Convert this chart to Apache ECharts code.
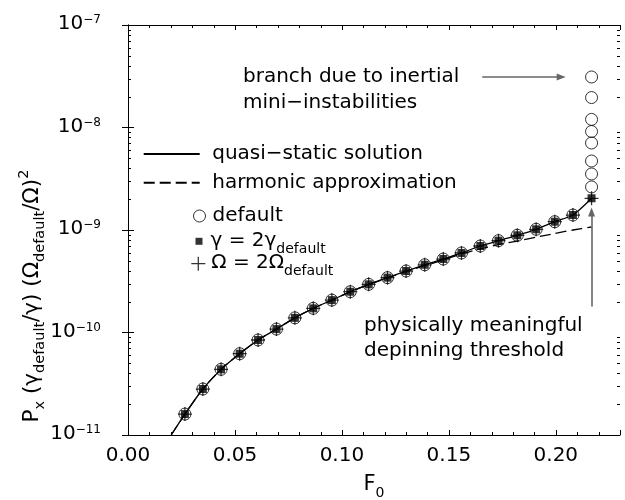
<!DOCTYPE html>
<html>
<head>
<meta charset="utf-8">
<script src="https://cdn.jsdelivr.net/npm/echarts@6/dist/echarts.min.js"></script>
<style>
    html, body { margin: 0; padding: 0; background: #fff; }
    #chart { width: 625px; height: 500px; }
</style>
</head>
<body>
<div id="chart"></div>
<script>
    const FONT = 'DejaVu Sans'

    // computed points along the curve (F0, scaled Px)
    const fValues = [0.0266, 0.0350, 0.0435, 0.0522, 0.0608, 0.0694, 0.0780, 0.0866, 0.0953, 0.1039, 0.1125, 0.1213,
        0.1300, 0.1387, 0.1474, 0.1559, 0.1647, 0.1732, 0.1820, 0.1908, 0.1995, 0.2080, 0.2167]
    const pValues = [1.60e-11, 2.81e-11, 4.37e-11, 6.21e-11, 8.45e-11, 1.08e-10, 1.39e-10, 1.72e-10, 2.07e-10, 2.50e-10, 2.95e-10, 3.43e-10,
        3.98e-10, 4.58e-10, 5.21e-10, 5.97e-10, 6.98e-10, 7.87e-10, 8.88e-10, 1.016e-9, 1.205e-9, 1.40e-9, 2.04e-9]

    // branch of the default run at the threshold
    const branchF = 0.2167
    const branchP = [2.63e-9, 3.52e-9, 4.71e-9, 7.06e-9, 9.14e-9, 1.20e-8, 1.96e-8, 3.11e-8]

    // quasi-static curve starts where it leaves the bottom of the plot
    const quasiStartF = 0.0202
    const quasiStartP = 1e-11

    // harmonic approximation
    const harmF = [0.0202, 0.0266, 0.0350, 0.0435, 0.0522, 0.0608, 0.0694, 0.0780, 0.0866, 0.0953, 0.1039, 0.1125,
        0.1213, 0.1300, 0.1387, 0.1474, 0.1559, 0.1647, 0.1732, 0.1820, 0.1908, 0.1995, 0.2080, 0.2167]
    const harmP = [1e-11, 1.60e-11, 2.81e-11, 4.37e-11, 6.21e-11, 8.45e-11, 1.08e-10, 1.39e-10, 1.72e-10, 2.07e-10, 2.49e-10, 2.93e-10,
        3.40e-10, 3.93e-10, 4.50e-10, 5.10e-10, 5.85e-10, 6.55e-10, 7.20e-10, 7.80e-10, 8.50e-10, 9.25e-10, 1.00e-9, 1.07e-9]

    // minor ticks
    const xMinorTicks = [0.01, 0.02, 0.03, 0.04, 0.06, 0.07, 0.08, 0.09, 0.11, 0.12, 0.13, 0.14, 0.16, 0.17, 0.18, 0.19, 0.21, 0.22]
    const yMinorTicks = [2e-11, 3e-11, 4e-11, 5e-11, 6e-11, 7e-11, 8e-11, 9e-11,
        2e-10, 3e-10, 4e-10, 5e-10, 6e-10, 7e-10, 8e-10, 9e-10,
        2e-9, 3e-9, 4e-9, 5e-9, 6e-9, 7e-9, 8e-9, 9e-9,
        2e-8, 3e-8, 4e-8, 5e-8, 6e-8, 7e-8, 8e-8, 9e-8]

    const quasiData = [[quasiStartF, quasiStartP]].concat(fValues.map((f, i) => [f, pValues[i]]))
    const harmData = harmF.map((f, i) => [f, harmP[i]])
    const defaultData = fValues.slice(0, 22).map((f, i) => [f, pValues[i]])
        .concat(branchP.map(p => [branchF, p]))
    const curveData = fValues.map((f, i) => [f, pValues[i]])
    const tickData = yMinorTicks.map(v => [0.1, v, 0]).concat(xMinorTicks.map(v => [v, 1e-9, 1]))

    const PLUS = 'path://M4.55,0H5.45V4.55H10V5.45H5.45V10H4.55V5.45H0V4.55H4.55Z'

    const subRich = {
        b: { fontFamily: FONT, fontSize: 20, lineHeight: 22, verticalAlign: 'top', color: '#000' },
        s: { fontFamily: FONT, fontSize: 14, lineHeight: 14, padding: [12, 0, 0, 0], verticalAlign: 'top', color: '#000' }
    }
    const legendFmt = name => {
        if (name.indexOf('_default') > 0) return '{b|' + name.replace('_default', '') + '}{s|default}'
        return name
    }
    const makeLegend = (name, left, top, w, h, pad, extra) => Object.assign({
        data: [name],
        left: left, top: top, padding: 0,
        itemWidth: w, itemHeight: h,
        selectedMode: false,
        formatter: legendFmt,
        textStyle: { fontFamily: FONT, fontSize: 20, lineHeight: 20, color: '#000', padding: [0, 0, 0, pad], rich: subRich }
    }, extra || {})

    const frameLine = { show: true, lineStyle: { color: '#000', width: 1 } }
    const majorTick = len => ({ show: true, inside: true, length: len, lineStyle: { color: '#000', width: 1 } })

    const chart = echarts.init(document.getElementById('chart'))

    const option = {
        animation: false,
        textStyle: { fontFamily: FONT, color: '#000' },
        grid: { left: 128, right: 5, top: 25, bottom: 65, outerBoundsMode: 'none' },
        xAxis: [
            {
                type: 'value', min: 0, max: 0.23, interval: 0.05, position: 'bottom',
                axisLine: frameLine, axisTick: majorTick(5), splitLine: { show: false },
                axisLabel: {
                    fontFamily: FONT, fontSize: 20, color: '#000', margin: 11,
                    formatter: v => Math.abs(v / 0.05 - Math.round(v / 0.05)) < 1e-6 ? v.toFixed(2) : ''
                },
                name: '{b|F}{s|0}', nameLocation: 'middle', nameGap: 39,
                nameTextStyle: { rich: {
                    b: { fontFamily: FONT, fontSize: 21, lineHeight: 22, verticalAlign: 'top', color: '#000' },
                    s: { fontFamily: FONT, fontSize: 14, lineHeight: 14, padding: [12, 0, 0, 0], verticalAlign: 'top', color: '#000' }
                } }
            },
            {
                type: 'value', min: 0, max: 0.23, interval: 0.05, position: 'top',
                axisLine: frameLine, axisTick: majorTick(5), splitLine: { show: false },
                axisLabel: { show: false }
            }
        ],
        yAxis: [
            {
                type: 'log', logBase: 10, min: 1e-11, max: 1e-7,
                axisLine: frameLine, axisTick: majorTick(6), splitLine: { show: false },
                axisLabel: {
                    margin: 27,
                    formatter: v => '{b|10}{e|\u2212' + Math.round(-Math.log10(v)) + '}',
                    rich: {
                        b: { fontFamily: FONT, fontSize: 20, lineHeight: 22, verticalAlign: 'top', color: '#000' },
                        e: { fontFamily: FONT, fontSize: 12, lineHeight: 13, verticalAlign: 'top', color: '#000' }
                    }
                }
            },
            {
                type: 'log', logBase: 10, min: 1e-11, max: 1e-7, position: 'right',
                axisLine: frameLine, axisTick: majorTick(6), splitLine: { show: false },
                axisLabel: { show: false }
            }
        ],
        legend: [
            makeLegend('quasi\u2212static solution', 142.7, 144, 56, 20, 7.5, { itemStyle: { opacity: 0 } }),
            makeLegend('harmonic approximation', 142.7, 172.7, 56, 20, 7.5, { itemStyle: { opacity: 0 } }),
            makeLegend('default', 193, 206, 12, 12, 2,
                { itemStyle: { color: 'rgba(0,0,0,0)', borderColor: '#000', borderWidth: 1 } }),
            makeLegend('\u03b3 = 2\u03b3_default', 195.5, 230.3, 7, 7, 3),
            makeLegend('\u03a9 = 2\u03a9_default', 191.3, 252.7, 14, 14, 1)
        ],
        graphic: [
            {
                type: 'text', x: 243, y: 64, silent: true,
                style: { text: 'branch due to inertial\nmini\u2212instabilities', fontFamily: FONT, fontSize: 20, lineHeight: 26, fill: '#000', verticalAlign: 'top' }
            },
            {
                type: 'text', x: 364, y: 313.5, silent: true,
                style: { text: 'physically meaningful\ndepinning threshold', fontFamily: FONT, fontSize: 20, lineHeight: 25, fill: '#000', verticalAlign: 'top' }
            },
            {
                type: 'text', x: 28, y: 296, rotation: Math.PI / 2, silent: true,
                style: {
                    text: '{b|P}{s|x}{b| (\u03b3}{s|default}{b|/\u03b3) (\u03a9}{s|default}{b|/\u03a9)}{p|2}',
                    align: 'center', verticalAlign: 'middle',
                    rich: {
                        b: { fontFamily: FONT, fontSize: 21.5, lineHeight: 22, padding: [4, 0, 0, 0], verticalAlign: 'top', fill: '#000' },
                        s: { fontFamily: FONT, fontSize: 14.5, lineHeight: 14, padding: [16, 0, 0, 0], verticalAlign: 'top', fill: '#000' },
                        p: { fontFamily: FONT, fontSize: 14.5, lineHeight: 14, verticalAlign: 'top', fill: '#000' }
                    }
                }
            }
        ],
        series: [
            {
                name: 'quasi\u2212static solution', type: 'line', data: quasiData,
                showSymbol: false, symbol: 'none', smooth: 0.25, z: 3,
                lineStyle: { color: '#000', width: 1.3 }, itemStyle: { color: '#000' }
            },
            {
                name: 'harmonic approximation', type: 'line', data: harmData,
                showSymbol: false, symbol: 'none', smooth: 0.25, z: 2,
                lineStyle: { color: '#000', width: 1.3, type: [11, 5] }, itemStyle: { color: '#000' },
                markLine: {
                    silent: true, symbol: ['none', 'triangle'], symbolSize: [7, 9],
                    label: { show: false },
                    lineStyle: { color: '#666', width: 1.6, type: 'solid' },
                    data: [
                        [{ coord: [0.1656, 3.11e-8] }, { coord: [0.2025, 3.11e-8] }],
                        [{ coord: [0.2167, 1.79e-10] }, { coord: [0.2167, 1.50e-9] }]
                    ]
                }
            },
            {
                name: 'default', type: 'scatter', data: defaultData, z: 4,
                symbol: 'circle', symbolSize: 12,
                itemStyle: { color: 'rgba(0,0,0,0)', borderColor: '#000', borderWidth: 1 }
            },
            {
                name: '\u03b3 = 2\u03b3_default', type: 'scatter', data: curveData, z: 5,
                symbol: 'rect', symbolSize: 8, itemStyle: { color: '#000' }
            },
            {
                name: '\u03a9 = 2\u03a9_default', type: 'scatter', data: curveData, z: 6,
                symbol: PLUS, symbolSize: 14, itemStyle: { color: '#000' }
            },
            {
                // minor ticks on all four sides of the frame
                type: 'custom', data: tickData, z: 10, silent: true,
                encode: { x: 0, y: 1 },
                renderItem: (params, api) => {
                    const cs = params.coordSys
                    const st = { stroke: '#000', lineWidth: 1 }
                    if (api.value(2) === 0) {
                        const y = Math.round(api.coord([0.1, api.value(1)])[1]) + 0.5
                        return { type: 'group', children: [
                            { type: 'line', shape: { x1: cs.x, y1: y, x2: cs.x + 3, y2: y }, style: st },
                            { type: 'line', shape: { x1: cs.x + cs.width - 3, y1: y, x2: cs.x + cs.width, y2: y }, style: st }
                        ] }
                    }
                    const x = Math.round(api.coord([api.value(0), 1e-9])[0]) + 0.5
                    return { type: 'group', children: [
                        { type: 'line', shape: { x1: x, y1: cs.y + cs.height, x2: x, y2: cs.y + cs.height - 3 }, style: st },
                        { type: 'line', shape: { x1: x, y1: cs.y, x2: x, y2: cs.y + 3 }, style: st }
                    ] }
                }
            }
        ]
    }

    chart.setOption(option)
</script>
</body>
</html>
